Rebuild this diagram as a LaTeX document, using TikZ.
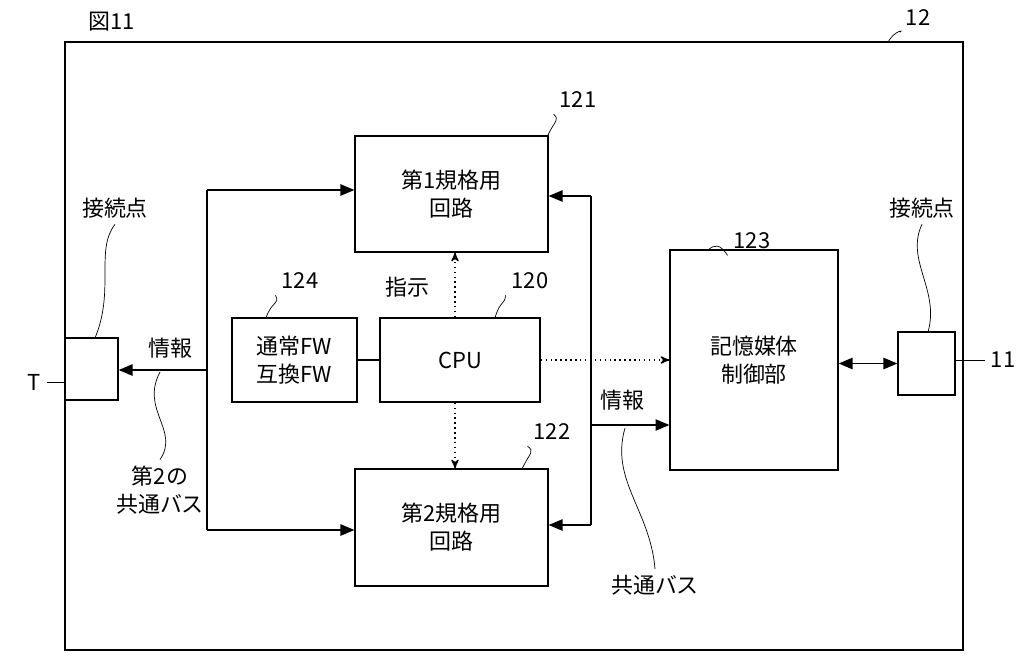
\documentclass[tikz,border=0pt]{standalone}
\usepackage{fontspec}
\setmainfont{Noto Sans CJK JP}
\usetikzlibrary{arrows,calc,positioning}
\tikzset{
  blk/.style = {draw, thick, minimum width=0pt, align=center, font=\fontsize{12.5}{16}\selectfont},
  lbl/.style = {font=\fontsize{12.5}{16}\selectfont, align=center},
  bus/.style = {thick, -triangle 45},
  cmd/.style = {thick, dotted, -stealth'},
  lead/.style = {thin}
}
\begin{document}
\begin{tikzpicture}[x=0.02cm,y=-0.02cm]
  \useasboundingbox (0,0) rectangle (1030,670);
  \draw[thick] (65,42) rectangle (963,650);
  \node[lbl] (fig) at (112,22) {図11};
  \node[lbl] (n12) at (918,18) {12};
  \draw[lead] (n12.south west) .. controls (905,30) and (895,30) .. (888,42);
  % blocks
  \node[blk, minimum width=3.86cm, minimum height=2.32cm] (std1) at (451.5,194) {第1規格用\\回路};
  \node[blk, minimum width=3.86cm, minimum height=2.34cm] (std2) at (451.5,527.5) {第2規格用\\回路};
  \node[blk, minimum width=3.2cm, minimum height=1.68cm] (cpu) at (460,360) {CPU};
  \node[blk, minimum width=2.5cm, minimum height=1.68cm] (fw) at (294.5,360) {通常FW\\互換FW};
  \node[blk, minimum width=3.36cm, minimum height=4.4cm] (ctrl) at (754,360) {記憶媒体\\制御部};
  \node[draw, thick, minimum width=1.06cm, minimum height=1.24cm] (cpl) at (91.5,369) {};
  \node[draw, thick, minimum width=1.14cm, minimum height=1.26cm] (cpr) at (926.5,363.5) {};
  % numbers
  \node[lbl] (n121) at (578,100) {121};
  \draw[lead] (n121.south west) .. controls (560,120) and (555,120) .. (548,135);
  \node[lbl] (n122) at (552,432) {122};
  \draw[lead] (n122.south west) .. controls (535,452) and (530,452) .. (522,469);
  \node[lbl] (n120) at (530,281) {120};
  \draw[lead] (n120.south west) .. controls (505,305) and (500,300) .. (495,318);
  \node[lbl] (n124) at (300,281) {124};
  \draw[lead] (n124.south west) .. controls (280,305) and (272,300) .. (266,318);
  \node[lbl] (n123) at (752,241) {123};
  \draw[lead] (n123.south west) .. controls (720,244) and (715,244) .. (708,250);
  % terminals
  \node[lbl] (T) at (34,382) {T};
  \draw (T.east) -- (cpl.west |- T.east);
  \node[lbl] (n11) at (1003,360) {11};
  \draw (n11.west) -- (cpr.east |- n11.west);
  % left bus
  \coordinate (lt) at (207,190);
  \coordinate (lb) at (207,530);
  \draw[thick] (lt) -- (lb);
  \draw[bus] (lt) -- (std1.west |- lt);
  \draw[bus] (lb) -- (std2.west |- lb);
  \draw[bus] (207,370) -- (cpl.east |- 0,370);
  \node[lbl] (infl) at (170,348) {情報};
  % right bus
  \coordinate (rt) at (591,196);
  \coordinate (rb) at (591,525);
  \draw[thick] (rt) -- (rb);
  \draw[bus] (rt) -- (std1.east |- rt);
  \draw[bus] (rb) -- (std2.east |- rb);
  \draw[bus] (591,425) -- (ctrl.west |- 0,425);
  \node[lbl] (infr) at (622,400) {情報};
  % cpu links
  \draw[thick] (fw) -- (cpu);
  \draw[cmd] (cpu.north -| 455,0) -- (std1.south -| 455,0);
  \draw[cmd] (cpu.south -| 455,0) -- (std2.north -| 455,0);
  \draw[cmd] (cpu.east) -- (ctrl.west |- cpu.east);
  \node[lbl] (cmdl) at (407,287) {指示};
  \draw[thick, triangle 45-triangle 45] (ctrl.east |- cpr.west) -- (cpr.west);
  % captions
  \node[lbl] (cpnl) at (115,208) {接続点};
  \draw[lead] (cpnl.south) .. controls (95,250) and (115,290) .. (95,338);
  \node[lbl] (cpnr) at (922,208) {接続点};
  \draw[lead] (cpnr.south) .. controls (905,260) and (940,290) .. (928,332);
  \node[lbl] (bus2) at (160,490) {第2の\\共通バス};
  \draw[lead] (160,372) .. controls (140,410) and (180,430) .. (bus2.north);
  \node[lbl] (busc) at (655,585) {共通バス};
  \draw[lead] (625,428) .. controls (610,480) and (650,510) .. (busc.north);
\end{tikzpicture}
\end{document}
